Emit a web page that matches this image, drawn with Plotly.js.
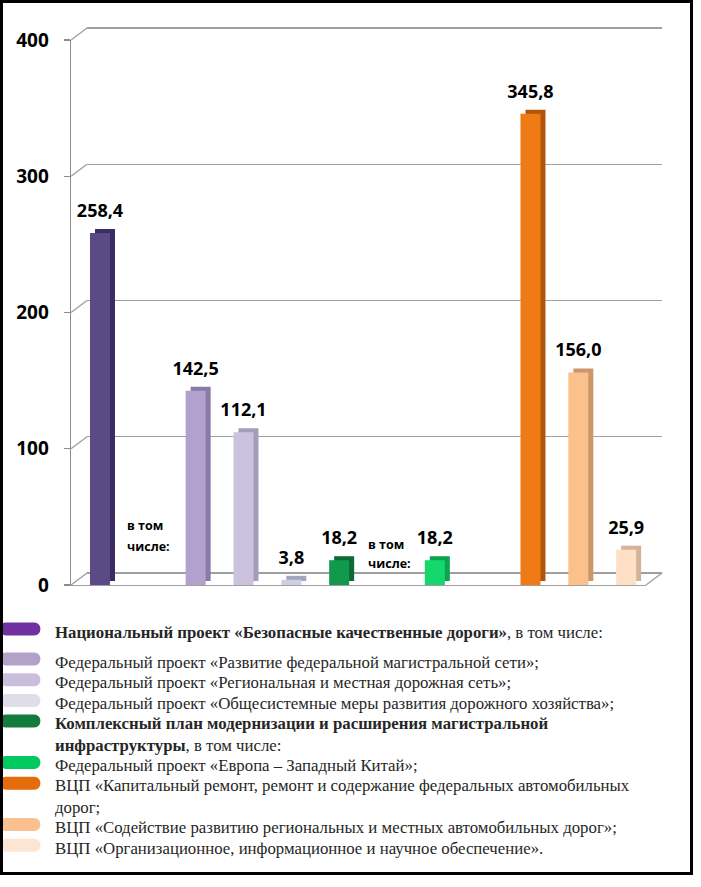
<!DOCTYPE html>
<html>
<head>
<meta charset="utf-8">
<script src="https://cdn.plot.ly/plotly-3.0.1.min.js"></script>
<style>
  html, body { margin: 0; padding: 0; background: #fff; }
  #wrap { position: relative; width: 701px; height: 887px; }
  #chart { width: 701px; height: 887px; }
  #frame { position: absolute; left: 0; top: 0; width: 693px; height: 875px;
           border: 3px solid #000; box-sizing: border-box; pointer-events: none; }
</style>
</head>
<body>
<div id="wrap"><div id="chart"></div><div id="frame"></div></div>
<script>
// ---------------- data ----------------
const slot   = [0, 2, 3, 4, 5, 7, 9, 10, 11];
const values = [258.4, 142.5, 112.1, 3.8, 18.2, 18.2, 345.8, 156.0, 25.9];
const frontColors = ['#5b4a86', '#b1a1cc', '#cbc3de', '#cdd0e4', '#119a4c', '#16d76c', '#f07a16', '#fcc08c', '#fde0c6'];
const sideColors  = ['#3b2c63', '#8a7aa6', '#a59cbb', '#a3a6c0', '#0a6b34', '#0ea34f', '#b0560c', '#cc9668', '#d4b39a'];
const yTicks = [0, 100, 200, 300, 400];
const noteLines = ['в том', 'числе:'];
const noteSlots = [1, 6];
const legendLabels = [
  '<b>Национальный проект «Безопасные качественные дороги»</b>, в том числе:',
  'Федеральный проект «Развитие федеральной магистральной сети»;',
  'Федеральный проект «Региональная и местная дорожная сеть»;',
  'Федеральный проект «Общесистемные меры развития дорожного хозяйства»;',
  '<b>Комплексный план модернизации и расширения магистральной</b><br><b>инфраструктуры</b>, в том числе:',
  'Федеральный проект «Европа – Западный Китай»;',
  'ВЦП «Капитальный ремонт, ремонт и содержание федеральных автомобильных<br>дорог;',
  'ВЦП «Содействие развитию региональных и местных автомобильных дорог»;',
  'ВЦП «Организационное, информационное и научное обеспечение».'
];
const legendColors = ['#7030a0', '#b3a2c7', '#c9bfdb', '#e0dde9', '#137b3e', '#00c95f', '#e46c0a', '#fac090', '#fde5d3'];

// ---------------- geometry (pixels) ----------------
const L = 71, R = 662;            // paper left/right px
const T = 22, B = 591;            // paper top/bottom px
const PW = R - L, PH = B - T;
const fx = px => (px - L) / PW;   // px -> paper fraction
const fy = py => (B - py) / PH;
const frontL = 71, frontR = 646, frontTop = 40, frontBot = 585;
const DX = 16, DY = 12;           // back wall depth
const yMax = 400;
const pyu = (frontBot - frontTop) / yMax;             // px per unit (y)
const xRange = [-0.606, 11.415];
const pxu = (frontR - frontL) / (xRange[1] - xRange[0]);
const barW = 20 / pxu;
const depthX = 5 / pxu, depthY = 4 / pyu, textLift = 8 / pyu;
const gray = '#9f9f9f';
const e = 4;                       // px padding so edge gridlines are drawn

const traces = [
  {type: 'scatter', x: [], y: [], xaxis: 'x', yaxis: 'y', showlegend: false, hoverinfo: 'skip'},
  // depth (side + top) faces
  {type: 'bar', x: slot, y: values, xaxis: 'x2', yaxis: 'y2', width: barW,
   offset: -barW / 2 + depthX, base: depthY,
   marker: {color: sideColors, line: {width: 0}}, hoverinfo: 'skip', showlegend: false},
  // front faces
  {type: 'bar', x: slot, y: values, xaxis: 'x2', yaxis: 'y2', width: barW,
   marker: {color: frontColors, line: {width: 0}}, hoverinfo: 'skip', showlegend: false},
  // value labels
  {type: 'bar', x: slot, y: values, xaxis: 'x2', yaxis: 'y2', width: barW, base: textLift,
   marker: {color: 'rgba(0,0,0,0)', line: {width: 0}},
   texttemplate: '%{y:.1f}', textposition: 'outside', constraintext: 'none', cliponaxis: false,
   textfont: {family: 'Open Sans', size: 18, weight: 700, color: '#000'},
   hoverinfo: 'skip', showlegend: false}
];

const shapes = [];
yTicks.forEach(v => {
  shapes.push({type: 'line', xref: 'paper', yref: 'paper',
    x0: fx(frontL), y0: fy(frontBot - v * pyu), x1: fx(frontL + DX), y1: fy(frontBot - DY - v * pyu),
    line: {color: gray, width: 1.4}});
});
shapes.push({type: 'line', xref: 'paper', yref: 'paper',
  x0: fx(frontR), y0: fy(frontBot), x1: fx(frontR + DX), y1: fy(frontBot - DY),
  line: {color: gray, width: 1.4}});

const annotations = [];
const noteY = [[43.5, 28], [30, 15.5]];
noteSlots.forEach((s, i) => {
  noteLines.forEach((t, j) => {
    annotations.push({xref: 'x2', yref: 'y2', x: s, y: noteY[i][j], text: t,
      xanchor: 'left', yanchor: 'middle', xshift: i === 0 ? -23 : -21, showarrow: false,
      font: {family: 'Open Sans', size: 12.5, weight: 700, color: '#000'}});
  });
});

let cursor = 632;
legendLabels.forEach((lab, i) => {
  const nLines = (lab.match(/<br>/g) || []).length + 1;
  const firstY = cursor;
  const centerY = firstY + (nLines - 1) * 20.7 / 2;
  annotations.push({xref: 'paper', yref: 'paper', x: fx(53), y: fy(centerY),
    text: lab, xanchor: 'left', yanchor: 'middle', align: 'left', showarrow: false,
    font: {family: 'Liberation Serif', size: 16.8, color: '#262626'}});
  shapes.push({type: 'path', xref: 'paper', yref: 'paper',
    xsizemode: 'pixel', ysizemode: 'pixel', xanchor: fx(0), yanchor: fy(firstY - 3),
    path: 'M 6,-6.5 L 34,-6.5 C 42.5,-6.5 42.5,6.5 34,6.5 L 6,6.5 C -2.5,6.5 -2.5,-6.5 6,-6.5 Z',
    fillcolor: legendColors[i], line: {width: 0}});
  cursor = (i === 0 ? 662 : cursor + nLines * 20.7);
});

const layout = {
  width: 701, height: 887,
  margin: {l: L, r: 701 - R, t: T, b: 887 - B, pad: 0},
  paper_bgcolor: '#fff', plot_bgcolor: 'rgba(0,0,0,0)',
  separators: ', ',
  barmode: 'overlay',
  showlegend: false,
  // back wall
  xaxis: {domain: [fx(frontL + DX), 1], anchor: 'y', range: [0, 1], visible: false, fixedrange: true},
  yaxis: {domain: [fy(frontBot - DY + e), fy(frontTop - DY - e)], anchor: 'x',
          range: [-e / pyu, yMax + e / pyu], tickvals: yTicks,
          showticklabels: false, ticks: '', showgrid: true, gridcolor: gray, gridwidth: 1.4,
          zeroline: false, showline: false, fixedrange: true},
  // front
  xaxis2: {domain: [0, fx(frontR)], anchor: 'y2', range: xRange, showgrid: false, zeroline: false,
           showticklabels: false, ticks: '', showline: true, linecolor: gray, linewidth: 1.4, fixedrange: true},
  yaxis2: {domain: [fy(frontBot), fy(frontTop)], anchor: 'x2', range: [0, yMax], tickvals: yTicks,
           showgrid: false, zeroline: false, showline: true, linecolor: '#8c8c8c', linewidth: 1.4,
           ticks: 'outside', ticklen: 6, tickcolor: '#8c8c8c', tickwidth: 1.4, ticklabelstandoff: 11,
           tickfont: {family: 'Open Sans', size: 19, weight: 700, color: '#000'}, fixedrange: true},
  shapes: shapes,
  annotations: annotations
};

Plotly.newPlot('chart', traces, layout, {displayModeBar: false, staticPlot: true});
</script>
</body>
</html>
